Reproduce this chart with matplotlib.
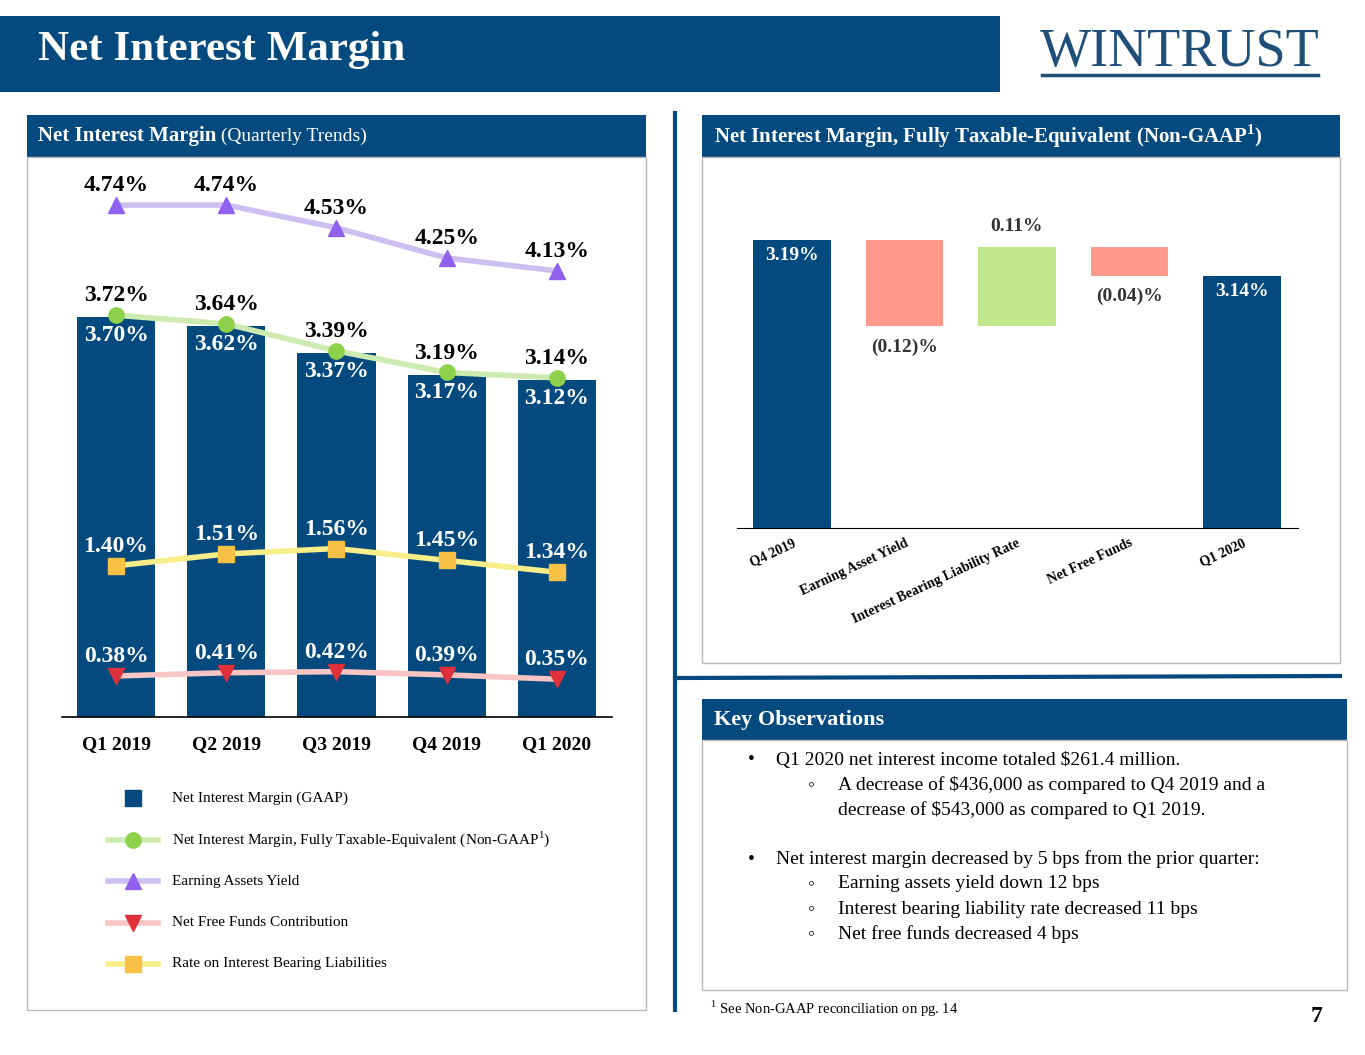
import matplotlib.pyplot as plt
from matplotlib.patches import Rectangle

plt.rcParams['font.family'] = ['Liberation Serif', 'DejaVu Sans']
plt.rcParams['mathtext.fontset'] = 'custom'
plt.rcParams['mathtext.rm'] = 'Liberation Serif'
plt.rcParams['mathtext.bf'] = 'Liberation Serif:bold'

W, H = 1365, 1055
NAVY = '#044A7E'

quarters = ['Q1 2019', 'Q2 2019', 'Q3 2019', 'Q4 2019', 'Q1 2020']
nim_gaap = [3.70, 3.62, 3.37, 3.17, 3.12]
nim_fte = [3.72, 3.64, 3.39, 3.19, 3.14]
earning_yield = [4.74, 4.74, 4.53, 4.25, 4.13]
net_free_funds = [0.38, 0.41, 0.42, 0.39, 0.35]
ibl_rate = [1.40, 1.51, 1.56, 1.45, 1.34]

wf_labels = ['Q4 2019', 'Earning Asset Yield', 'Interest Bearing Liability Rate',
             'Net Free Funds', 'Q1 2020']
wf_start = 3.19
wf_changes = [-0.12, 0.11, -0.04]
wf_end = 3.14


def px(x0, y0, x1, y1):
    return [x0 / W, 1 - y1 / H, (x1 - x0) / W, (y1 - y0) / H]


fig = plt.figure(figsize=(W / 100, H / 100), dpi=100)

# overlay for slide decoration
ov = fig.add_axes([0, 0, 1, 1])
ov.set_xlim(0, W)
ov.set_ylim(H, 0)
ov.axis('off')


def box(x0, y0, x1, y1, fc='none', ec='none', lw=1):
    ov.add_patch(Rectangle((x0, y0), x1 - x0, y1 - y0, fc=fc, ec=ec, lw=lw))


box(0, 16, 1000, 92, fc=NAVY)
ov.text(38, 50, 'Net Interest Margin', color='white', fontsize=31, fontweight='bold', va='center')
ov.text(1180, 53, 'WINTRUST', color='#1F4E79', fontsize=39, ha='center', va='center')
ov.plot([1042, 1318], [75, 75], color='#1F4E79', lw=2.5)

# left panel
box(27, 115, 646, 157, fc=NAVY)
t1 = ov.text(38, 136, 'Net Interest Margin', color='white', fontsize=15, fontweight='bold', va='center')
ov.annotate(' (Quarterly Trends)', xycoords=t1, xy=(1, 0.5), va='center', color='white', fontsize=14)
box(27, 157, 646, 1010, ec='#BBBBBB')

# right top panel
box(702, 115, 1340, 157, fc=NAVY)
ov.text(714, 136, r'Net Interest Margin, Fully Taxable-Equivalent (Non-GAAP$^{\mathbf{1}}$)',
        color='white', fontsize=15, fontweight='bold', va='center')
box(702, 157, 1340, 663, ec='#BBBBBB')

# dividers
ov.plot([675, 675], [113, 1010], color=NAVY, lw=3)
ov.plot([675, 1340], [678, 676], color=NAVY, lw=3)

# key observations
box(702, 699, 1347, 740, fc=NAVY)
ov.text(714, 720, 'Key Observations', color='white', fontsize=16, fontweight='bold', va='center')
box(702, 740, 1347, 990, ec='#BBBBBB')
obs = [
    (748, 776, 760, '•', 'Q1 2020 net interest income totaled $261.4 million.'),
    (808, 838, 785, '◦', 'A decrease of $436,000 as compared to Q4 2019 and a'),
    (None, 838, 810, '', 'decrease of $543,000 as compared to Q1 2019.'),
    (748, 776, 859, '•', 'Net interest margin decreased by 5 bps from the prior quarter:'),
    (808, 838, 884, '◦', 'Earning assets yield down 12 bps'),
    (808, 838, 909, '◦', 'Interest bearing liability rate decreased 11 bps'),
    (808, 838, 934, '◦', 'Net free funds decreased 4 bps'),
]
for bx, tx, ty, b, t in obs:
    if bx:
        ov.text(bx, ty, b, fontsize=14, va='center')
    ov.text(tx, ty, t, fontsize=14, va='center')
ov.text(710, 1009, r'$^{1}$ See Non-GAAP reconciliation on pg. 14', fontsize=10.5, va='center')
ov.text(1322, 1017, '7', fontsize=17, fontweight='bold', ha='right', va='center')

# legend
leg = [
    ('Net Interest Margin (GAAP)', None, 's', NAVY),
    (r'Net Interest Margin, Fully Taxable-Equivalent (Non-GAAP$^{1}$)', '#CDEBB0', 'o', '#8ED14B'),
    ('Earning Assets Yield', '#CDBFF2', '^', '#9160EE'),
    ('Net Free Funds Contribution', '#F8C4C4', 'v', '#E0303A'),
    ('Rate on Interest Bearing Liabilities', '#F7EE8A', 's', '#F9C046'),
]
for i, (lab, lc, mk, mc) in enumerate(leg):
    y = 798 + i * 41.5
    if lc:
        ov.plot([108, 158], [y, y], color=lc, lw=4)
    ov.plot([133], [y], marker=mk, color=mc, ms=12 if i == 0 else 11, ls='none')
    ov.text(172, y, lab, fontsize=11, va='center')

# left chart
ax = fig.add_axes(px(62, 160, 612, 717))
x = range(len(quarters))
ax.bar(x, nim_gaap, width=0.71, color=NAVY, zorder=1)
series = [
    (earning_yield, '#CDBFF2', '^', '#9160EE', 'black'),
    (nim_fte, '#CDEBB0', 'o', '#8ED14B', 'black'),
    (ibl_rate, '#F7EE8A', 's', '#F9C046', 'white'),
    (net_free_funds, '#F8C4C4', 'v', '#E0303A', 'white'),
]
for vals, lc, mk, mc, tc in series:
    ax.plot(x, vals, color=lc, lw=4, zorder=2)
    ax.plot(x, vals, marker=mk, color=mc, ms=11, ls='none', zorder=3)
    for xi, v in zip(x, vals):
        ax.annotate(f'{v:.2f}%', (xi, v), xytext=(0, 14), textcoords='offset points',
                    ha='center', va='center', fontsize=17, fontweight='bold', color=tc, zorder=4)
for xi, v in zip(x, nim_gaap):
    ax.annotate(f'{v:.2f}%', (xi, v), xytext=(0, -13), textcoords='offset points',
                ha='center', va='center', fontsize=17, fontweight='bold', color='white', zorder=4)
ax.set_xlim(-0.49, 4.5)
ax.set_ylim(0, 5.157)
ax.set_yticks([])
ax.set_xticks(list(x))
ax.set_xticklabels(quarters, fontsize=14, fontweight='bold')
ax.tick_params(axis='x', length=0, pad=14)
for s in ['top', 'right', 'left']:
    ax.spines[s].set_visible(False)
ax.spines['bottom'].set_linewidth(1.2)
ax.patch.set_alpha(0)

# waterfall
wx = fig.add_axes(px(737, 160, 1298, 528))
wx.bar(0, wf_start, width=0.69, color=NAVY)
level = wf_start
for i, c in enumerate(wf_changes, start=1):
    wx.bar(i, abs(c), bottom=min(level, level + c), width=0.69,
           color='#FF9A8C' if c < 0 else '#BFE68A')
    lab = f'({abs(c):.2f})%' if c < 0 else f'{c:.2f}%'
    ytxt = min(level, level + c) if c < 0 else max(level, level + c)
    wx.annotate(lab, (i, ytxt), xytext=(0, -15 if c < 0 else 15), textcoords='offset points',
                ha='center', va='center', fontsize=14, fontweight='bold', color='#333333')
    level += c
wx.bar(4, wf_end, width=0.69, color=NAVY)
for xi, v in [(0, wf_start), (4, wf_end)]:
    wx.annotate(f'{v:.2f}%', (xi, v), xytext=(0, -11), textcoords='offset points',
                ha='center', va='center', fontsize=14, fontweight='bold', color='white')
wx.set_xlim(-0.49, 4.5)
wx.set_ylim(2.79, 3.301)
wx.set_yticks([])
wx.set_xticks(range(5))
wx.set_xticklabels(wf_labels, rotation=25, ha='right', rotation_mode='anchor',
                   fontsize=10, fontweight='bold')
wx.tick_params(axis='x', length=0, pad=6)
for s in ['top', 'right', 'left']:
    wx.spines[s].set_visible(False)
wx.patch.set_alpha(0)

fig.savefig('out.png', dpi=100)
